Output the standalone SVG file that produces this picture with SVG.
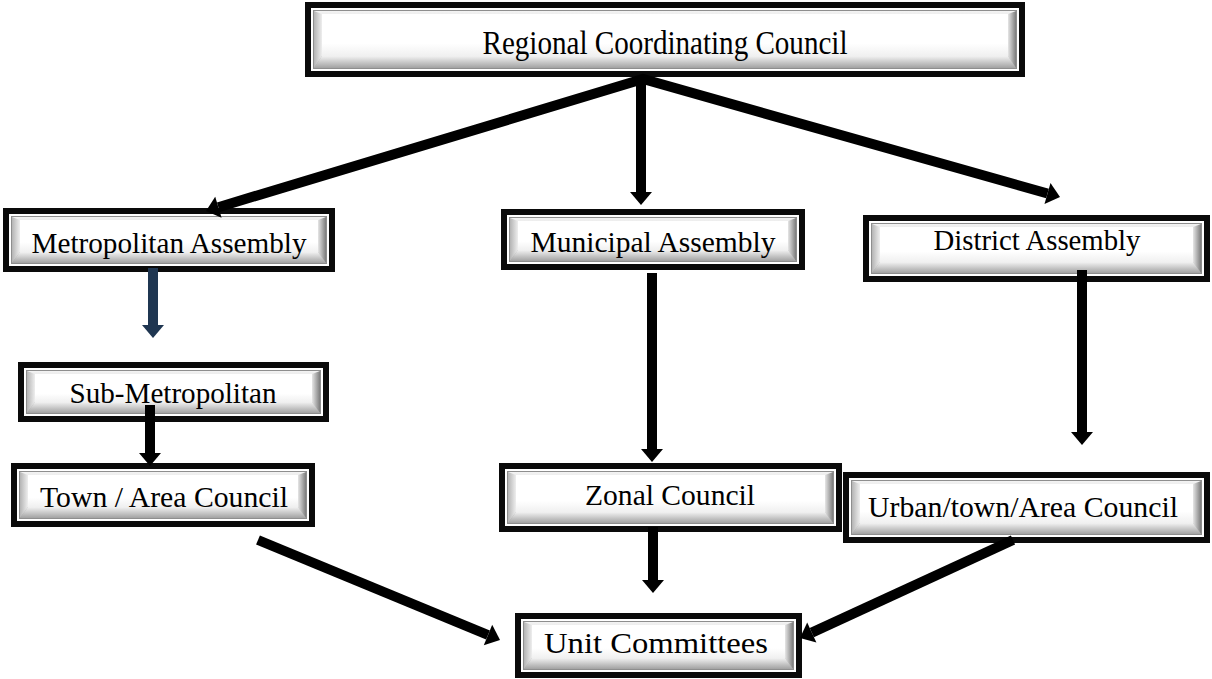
<svg xmlns="http://www.w3.org/2000/svg" width="1212" height="679" viewBox="0 0 1212 679">
<style>
.frame{fill:#0a0a0a}
.gap{fill:#ffffff}
.inner{fill:url(#gV);stroke:#8e8e8e;stroke-width:1}
.bl{fill:url(#gL)}
.br{fill:url(#gR)}
.bb{fill:url(#gB)}
.face{fill:url(#gF)}
.lbl{font-family:"Liberation Serif","Times New Roman",Times,serif;font-size:29px;fill:#000;text-anchor:middle}
.lbl.big{font-size:34px}
.conn{fill:none;stroke:#000;stroke-width:10;stroke-linejoin:miter;stroke-miterlimit:10}
.navy{fill:none;stroke:#1F3651;stroke-width:10}
</style>
<defs>
<linearGradient id="gV" x1="0" y1="0" x2="0" y2="1"><stop offset="0" stop-color="#f4f4f4"/><stop offset="1" stop-color="#9a9a9a"/></linearGradient>
<linearGradient id="gL" x1="0" y1="0" x2="1" y2="0"><stop offset="0" stop-color="#b4b4b4"/><stop offset="1" stop-color="#eeeeee"/></linearGradient>
<linearGradient id="gR" x1="0" y1="0" x2="1" y2="0"><stop offset="0" stop-color="#e6e6e6"/><stop offset="1" stop-color="#7c7c7c"/></linearGradient>
<linearGradient id="gB" x1="0" y1="0" x2="0" y2="1"><stop offset="0" stop-color="#f2f2f2"/><stop offset="1" stop-color="#a2a2a2"/></linearGradient>
<linearGradient id="gF" x1="0" y1="0" x2="0" y2="1"><stop offset="0" stop-color="#ffffff"/><stop offset="0.7" stop-color="#ffffff"/><stop offset="1" stop-color="#f0f0f0"/></linearGradient>
<marker id="ah" markerUnits="userSpaceOnUse" markerWidth="24" markerHeight="24" refX="0" refY="11" orient="auto-start-reverse" overflow="visible"><path d="M0,0 L13,11 L0,22 z" fill="#000"/></marker>
<marker id="ahn" markerUnits="userSpaceOnUse" markerWidth="24" markerHeight="24" refX="0" refY="11" orient="auto" overflow="visible"><path d="M0,0 L13,11 L0,22 z" fill="#1F3651"/></marker>
</defs>

<g id="regional">
<rect class="frame" x="305" y="2" width="720" height="75"/>
<rect class="gap" x="311" y="8" width="708" height="63"/>
<rect class="inner" x="313.5" y="10.5" width="703" height="58"/>
<path class="bl" d="M314,11 L322,14 L322,56 L314,68 z"/>
<path class="br" d="M1016,11 L1008,14 L1008,56 L1016,68 z"/>
<path class="bb" d="M314,68 L322,56 L1008,56 L1016,68 z"/>
<rect class="face" x="322" y="14" width="686" height="42"/>
<text class="lbl big" x="665" y="54" textLength="365" lengthAdjust="spacingAndGlyphs">Regional Coordinating Council</text>
</g>

<g id="metropolitan">
<rect class="frame" x="3" y="208" width="332" height="64"/>
<rect class="gap" x="9" y="214" width="320" height="52"/>
<rect class="inner" x="11.5" y="216.5" width="315" height="47"/>
<path class="bl" d="M12,217 L20,220 L20,252 L12,263 z"/>
<path class="br" d="M326,217 L318,220 L318,252 L326,263 z"/>
<path class="bb" d="M12,263 L20,252 L318,252 L326,263 z"/>
<rect class="face" x="20" y="220" width="298" height="32"/>
<text class="lbl" x="169" y="253" textLength="275" lengthAdjust="spacingAndGlyphs">Metropolitan Assembly</text>
</g>

<g id="municipal">
<rect class="frame" x="501" y="209" width="304" height="61"/>
<rect class="gap" x="507" y="215" width="292" height="49"/>
<rect class="inner" x="509.5" y="217.5" width="287" height="44"/>
<path class="bl" d="M510,218 L518,221 L518,250 L510,261 z"/>
<path class="br" d="M796,218 L788,221 L788,250 L796,261 z"/>
<path class="bb" d="M510,261 L518,250 L788,250 L796,261 z"/>
<rect class="face" x="518" y="221" width="270" height="29"/>
<text class="lbl" x="653" y="252" textLength="245" lengthAdjust="spacingAndGlyphs">Municipal Assembly</text>
</g>

<g id="district">
<rect class="frame" x="863" y="215" width="347" height="67"/>
<rect class="gap" x="869" y="221" width="335" height="55"/>
<rect class="inner" x="871.5" y="223.5" width="330" height="50"/>
<path class="bl" d="M872,224 L880,227 L880,262 L872,273 z"/>
<path class="br" d="M1201,224 L1193,227 L1193,262 L1201,273 z"/>
<path class="bb" d="M872,273 L880,262 L1193,262 L1201,273 z"/>
<rect class="face" x="880" y="227" width="313" height="35"/>
<text class="lbl" x="1037" y="250" textLength="207" lengthAdjust="spacingAndGlyphs">District Assembly</text>
</g>

<g id="submetropolitan">
<rect class="frame" x="18" y="362" width="311" height="60"/>
<rect class="gap" x="24" y="368" width="299" height="48"/>
<rect class="inner" x="26.5" y="370.5" width="294" height="43"/>
<path class="bl" d="M27,371 L35,374 L35,402 L27,413 z"/>
<path class="br" d="M320,371 L312,374 L312,402 L320,413 z"/>
<path class="bb" d="M27,413 L35,402 L312,402 L320,413 z"/>
<rect class="face" x="35" y="374" width="277" height="28"/>
<text class="lbl" x="173" y="403" textLength="207" lengthAdjust="spacingAndGlyphs">Sub-Metropolitan</text>
</g>

<g id="town">
<rect class="frame" x="11" y="463" width="304" height="64"/>
<rect class="gap" x="17" y="469" width="292" height="52"/>
<rect class="inner" x="19.5" y="471.5" width="287" height="47"/>
<path class="bl" d="M20,472 L28,475 L28,507 L20,518 z"/>
<path class="br" d="M306,472 L298,475 L298,507 L306,518 z"/>
<path class="bb" d="M20,518 L28,507 L298,507 L306,518 z"/>
<rect class="face" x="28" y="475" width="270" height="32"/>
<text class="lbl" x="164" y="507" textLength="248" lengthAdjust="spacingAndGlyphs">Town / Area Council</text>
</g>

<g id="zonal">
<rect class="frame" x="499" y="463" width="343" height="69"/>
<rect class="gap" x="505" y="469" width="331" height="57"/>
<rect class="inner" x="507.5" y="471.5" width="326" height="52"/>
<path class="bl" d="M508,472 L516,475 L516,512 L508,523 z"/>
<path class="br" d="M833,472 L825,475 L825,512 L833,523 z"/>
<path class="bb" d="M508,523 L516,512 L825,512 L833,523 z"/>
<rect class="face" x="516" y="475" width="309" height="37"/>
<text class="lbl" x="670" y="505" textLength="170" lengthAdjust="spacingAndGlyphs">Zonal Council</text>
</g>

<g id="urban">
<rect class="frame" x="843" y="472" width="367" height="71"/>
<rect class="gap" x="849" y="478" width="355" height="59"/>
<rect class="inner" x="851.5" y="480.5" width="350" height="54"/>
<path class="bl" d="M852,481 L860,484 L860,523 L852,534 z"/>
<path class="br" d="M1201,481 L1193,484 L1193,523 L1201,534 z"/>
<path class="bb" d="M852,534 L860,523 L1193,523 L1201,534 z"/>
<rect class="face" x="860" y="484" width="333" height="39"/>
<text class="lbl" x="1023" y="517" textLength="310" lengthAdjust="spacingAndGlyphs">Urban/town/Area Council</text>
</g>

<g id="unit">
<rect class="frame" x="515" y="613" width="287" height="65"/>
<rect class="gap" x="521" y="619" width="275" height="53"/>
<rect class="inner" x="523.5" y="621.5" width="270" height="48"/>
<path class="bl" d="M524,622 L532,625 L532,658 L524,669 z"/>
<path class="br" d="M793,622 L785,625 L785,658 L793,669 z"/>
<path class="bb" d="M524,669 L532,658 L785,658 L793,669 z"/>
<rect class="face" x="532" y="625" width="253" height="33"/>
<text class="lbl" x="656" y="653" textLength="224" lengthAdjust="spacingAndGlyphs">Unit Committees</text>
</g>

<g id="connectors">
<path class="conn" d="M218.4,207.2 L643,79 L1047.5,193.5" marker-start="url(#ah)" marker-end="url(#ah)"/>
<path class="conn" d="M641,79 V192" marker-end="url(#ah)"/>
<path class="navy" d="M153,268 V325" marker-end="url(#ahn)"/>
<path class="conn" d="M150,405 V453" marker-end="url(#ah)"/>
<path class="conn" d="M652,273 V449" marker-end="url(#ah)"/>
<path class="conn" d="M1082,270 V432" marker-end="url(#ah)"/>
<path class="conn" d="M653,527 V580" marker-end="url(#ah)"/>
<path class="conn" d="M258,540 L488,635" marker-end="url(#ah)"/>
<path class="conn" d="M1013,540 L811.8,632.6" marker-end="url(#ah)"/>
</g>
</svg>
